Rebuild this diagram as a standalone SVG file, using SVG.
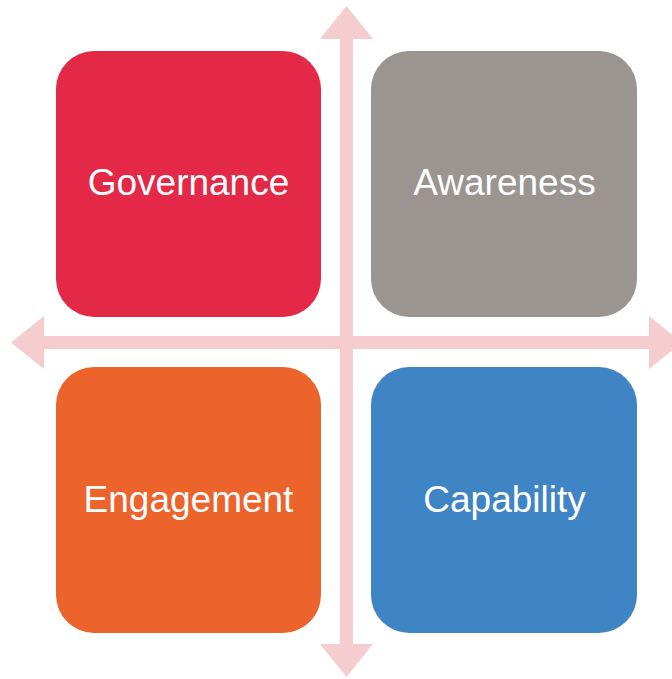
<svg xmlns="http://www.w3.org/2000/svg" width="672" height="679" viewBox="0 0 672 679">
<style>
.box{stroke:none}
.lbl{font-family:"Liberation Sans",Arial,sans-serif;font-size:37px;fill:#ffffff;text-anchor:middle}
.arr{fill:#F5CDCF;stroke:none}
</style>
<rect width="672" height="679" fill="#ffffff"/>
<g id="connectors">
<polygon class="arr" points="346.5,6 373,39 353,39 353,644 373,644 346.5,677 320,644 340,644 340,39 320,39"/>
<polygon class="arr" points="11,342.5 44,316 44,336 649,336 649,316 682,342.5 649,369 649,349 44,349 44,369"/>
</g>
<g id="governance">
<rect class="box" x="56" y="51" width="265" height="266" rx="38" fill="#E42847"/>
<text class="lbl" x="188.5" y="195">Governance</text>
</g>
<g id="awareness">
<rect class="box" x="371" y="51" width="266" height="266" rx="38" fill="#9A9591"/>
<text class="lbl" x="504.5" y="195">Awareness</text>
</g>
<g id="engagement">
<rect class="box" x="56" y="367" width="265" height="266" rx="38" fill="#EC632C"/>
<text class="lbl" x="188.5" y="512">Engagement</text>
</g>
<g id="capability">
<rect class="box" x="371" y="367" width="266" height="266" rx="38" fill="#3F85C6"/>
<text class="lbl" x="504.5" y="512">Capability</text>
</g>
</svg>
